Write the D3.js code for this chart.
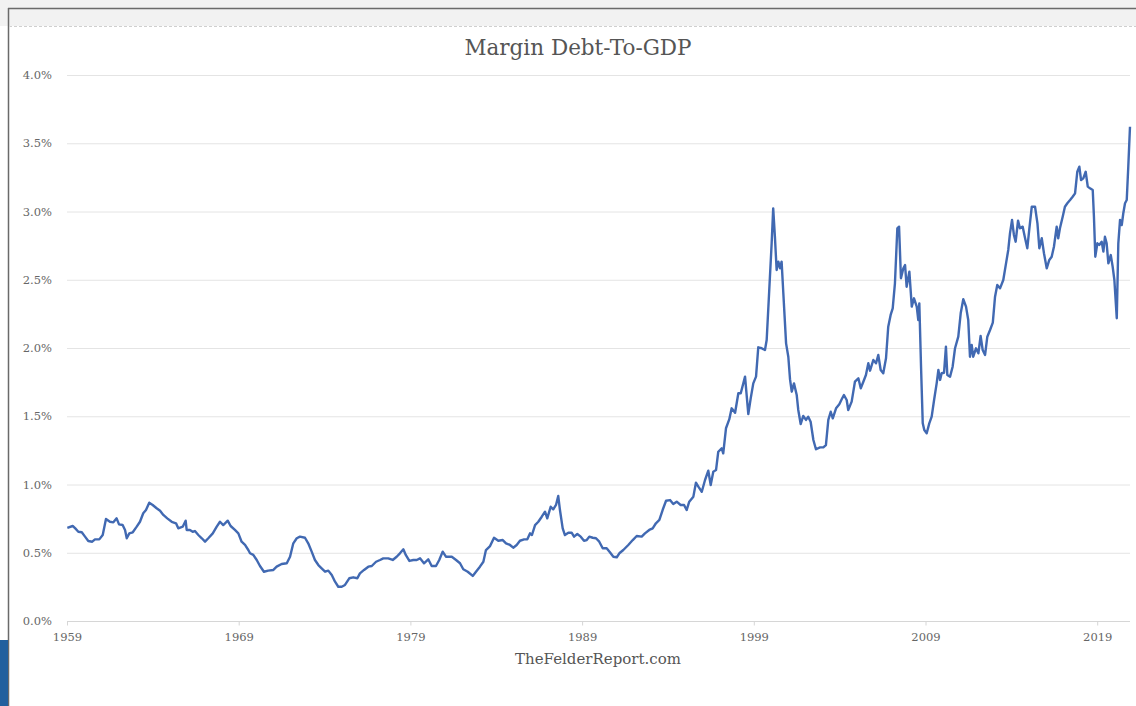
<!DOCTYPE html>
<html lang="en">
<head>
    <meta charset="UTF-8" />
    <title>Margin Debt-To-GDP</title>
    <script src="https://d3js.org/d3.v7.min.js"></script>
    <style>
        body { margin: 0; background: #ffffff; }
        text { font-family: "DejaVu Serif", "Liberation Serif", serif; }
    </style>
</head>
<body>
    <script>
        // values (year, margin debt as % of GDP)
        const years = [
            1959.02, 1959.33, 1959.47, 1959.66, 1959.86, 1960.05, 1960.24, 1960.47, 1960.63, 1960.88,
            1961.08, 1961.27, 1961.50, 1961.70, 1961.89, 1962.03, 1962.24, 1962.38, 1962.48, 1962.63,
            1962.83, 1963.06, 1963.25, 1963.44, 1963.60, 1963.79, 1963.99, 1964.22, 1964.42, 1964.61,
            1964.84, 1965.10, 1965.35, 1965.48, 1965.74, 1965.91, 1965.97, 1966.16, 1966.32, 1966.45,
            1966.65, 1966.85, 1967.04, 1967.23, 1967.49, 1967.72, 1967.91, 1968.10, 1968.36, 1968.53,
            1968.78, 1968.98, 1969.17, 1969.37, 1969.56,
            1969.66, 1969.85, 1970.05, 1970.24, 1970.47, 1970.72, 1971.02, 1971.21, 1971.50, 1971.80,
            1971.99, 1972.18, 1972.38, 1972.57, 1972.86, 1973.05, 1973.25, 1973.44, 1973.64, 1973.83,
            1974.03, 1974.22, 1974.42, 1974.61, 1974.80, 1975.00, 1975.19, 1975.44, 1975.67, 1975.91,
            1976.06, 1976.30, 1976.55, 1976.75, 1977.00, 1977.23, 1977.42, 1977.71, 1977.97, 1978.20,
            1978.39, 1978.59, 1978.73, 1978.94, 1979.17, 1979.37, 1979.56,
            1979.79, 1980.04, 1980.24, 1980.49, 1980.68, 1980.88, 1981.07, 1981.41, 1981.66, 1981.89,
            1982.08, 1982.34, 1982.63, 1982.82, 1983.05, 1983.25, 1983.40, 1983.64, 1983.87, 1984.12,
            1984.38, 1984.57, 1984.80, 1984.99, 1985.19, 1985.38, 1985.62, 1985.81, 1985.97, 1986.08,
            1986.26, 1986.45, 1986.65, 1986.84, 1986.97, 1987.17, 1987.32, 1987.48, 1987.61, 1987.71,
            1987.87, 1988.00, 1988.20, 1988.39, 1988.53, 1988.72, 1988.92, 1989.11, 1989.27, 1989.42,
            1989.62, 1989.81, 1990.00, 1990.20, 1990.43, 1990.62, 1990.82, 1991.02, 1991.17,
            1991.40, 1991.69, 1991.95, 1992.18, 1992.47, 1992.66, 1992.91, 1993.11, 1993.30, 1993.50,
            1993.69, 1993.89, 1994.12, 1994.31, 1994.51, 1994.74, 1994.94, 1995.09, 1995.24, 1995.48,
            1995.63, 1995.77, 1995.97, 1996.16, 1996.35, 1996.49, 1996.64, 1996.80, 1996.93, 1997.13,
            1997.22, 1997.38, 1997.57, 1997.71, 1997.91, 1998.10, 1998.24, 1998.49, 1998.68, 1998.82,
            1998.97, 1999.13, 1999.26, 1999.46, 1999.65, 1999.75, 1999.90, 2000.04, 2000.13, 2000.23,
            2000.33, 2000.43, 2000.53, 2000.62, 2000.72, 2000.88, 2001.01, 2001.11,
            2001.21, 2001.34, 2001.50, 2001.59, 2001.73, 2001.88, 2002.04, 2002.17, 2002.31, 2002.47,
            2002.62, 2002.86, 2003.05, 2003.20, 2003.34, 2003.48, 2003.60, 2003.79, 2003.98, 2004.12,
            2004.25, 2004.41, 2004.50, 2004.70, 2004.89, 2005.09, 2005.23, 2005.38, 2005.53, 2005.67,
            2005.77, 2005.96, 2006.12, 2006.25, 2006.39, 2006.54, 2006.70, 2006.83, 2006.97, 2007.09,
            2007.22, 2007.36, 2007.46, 2007.57, 2007.71, 2007.81, 2007.90, 2008.06, 2008.20, 2008.33,
            2008.49, 2008.58, 2008.64, 2008.74, 2008.84, 2008.93, 2009.07, 2009.22, 2009.36, 2009.50,
            2009.65, 2009.75, 2009.85, 2009.94, 2010.08, 2010.19, 2010.27, 2010.43,
            2010.58, 2010.72, 2010.91, 2011.05, 2011.20, 2011.36, 2011.49, 2011.59, 2011.69, 2011.78,
            2011.94, 2012.08, 2012.21, 2012.33, 2012.47, 2012.60, 2012.76, 2012.92, 2013.05, 2013.18,
            2013.34, 2013.53, 2013.69, 2013.82, 2013.92, 2014.04, 2014.15, 2014.25, 2014.39, 2014.50,
            2014.66, 2014.80, 2014.93, 2015.05, 2015.19, 2015.38, 2015.52, 2015.63, 2015.77, 2015.90,
            2016.06, 2016.21, 2016.35, 2016.48, 2016.64, 2016.73, 2016.83, 2016.99, 2017.12, 2017.26,
            2017.42, 2017.57, 2017.71, 2017.84, 2017.96, 2018.06, 2018.19, 2018.33, 2018.45, 2018.58,
            2018.74, 2018.81, 2018.89, 2019.01, 2019.12, 2019.26, 2019.36, 2019.45, 2019.55, 2019.65,
            2019.79, 2019.90, 2020.00, 2020.14, 2020.23, 2020.33, 2020.43, 2020.52, 2020.62, 2020.72,
            2020.81, 2020.91
        ];
        const debtToGdp = [
            0.683, 0.696, 0.680, 0.654, 0.650, 0.618, 0.586, 0.581, 0.598, 0.598,
            0.630, 0.747, 0.727, 0.723, 0.752, 0.708, 0.703, 0.667, 0.606, 0.642,
            0.650, 0.691, 0.727, 0.789, 0.813, 0.867, 0.850, 0.826, 0.808, 0.777,
            0.752, 0.727, 0.716, 0.679, 0.691, 0.735, 0.667, 0.667, 0.654, 0.659,
            0.630, 0.606, 0.581, 0.606, 0.642, 0.691, 0.727, 0.703, 0.735, 0.696,
            0.667, 0.642, 0.581, 0.557, 0.520,
            0.496, 0.484, 0.447, 0.403, 0.361, 0.369, 0.374, 0.398, 0.418, 0.423,
            0.471, 0.569, 0.606, 0.618, 0.610, 0.569, 0.508, 0.447, 0.410, 0.386,
            0.361, 0.369, 0.337, 0.288, 0.251, 0.251, 0.264, 0.313, 0.320, 0.313,
            0.349, 0.374, 0.398, 0.403, 0.434, 0.447, 0.459, 0.459, 0.447, 0.471,
            0.496, 0.525, 0.484, 0.440, 0.447, 0.447, 0.459,
            0.423, 0.452, 0.403, 0.403, 0.447, 0.508, 0.471, 0.471, 0.447, 0.423,
            0.379, 0.361, 0.330, 0.361, 0.398, 0.434, 0.520, 0.549, 0.610, 0.588,
            0.593, 0.569, 0.557, 0.537, 0.557, 0.588, 0.598, 0.598, 0.642, 0.630,
            0.703, 0.727, 0.764, 0.801, 0.752, 0.837, 0.818, 0.850, 0.916, 0.813,
            0.679, 0.630, 0.647, 0.647, 0.618, 0.637, 0.618, 0.588, 0.593, 0.618,
            0.610, 0.606, 0.581, 0.533, 0.533, 0.504, 0.471, 0.467, 0.496,
            0.520, 0.557, 0.593, 0.623, 0.618, 0.642, 0.667, 0.679, 0.716, 0.740,
            0.813, 0.881, 0.886, 0.857, 0.874, 0.850, 0.850, 0.813, 0.874, 0.911,
            1.013, 0.984, 0.947, 1.033, 1.101, 0.996, 1.094, 1.106, 1.240, 1.265,
            1.228, 1.412, 1.477, 1.558, 1.526, 1.668, 1.668, 1.790, 1.516, 1.631,
            1.741, 1.790, 2.005, 1.998, 1.985, 2.059, 2.425, 2.767, 3.023, 2.815,
            2.571, 2.633, 2.584, 2.633, 2.401, 2.034, 1.936, 1.770,
            1.680, 1.741, 1.655, 1.546, 1.443, 1.502, 1.473, 1.497, 1.460, 1.326,
            1.258, 1.272, 1.272, 1.289, 1.473, 1.533, 1.485, 1.558, 1.588, 1.624,
            1.656, 1.619, 1.546, 1.607, 1.753, 1.778, 1.705, 1.753, 1.802, 1.888,
            1.834, 1.912, 1.888, 1.949, 1.839, 1.815, 1.925, 2.156, 2.242, 2.291,
            2.474, 2.877, 2.889, 2.511, 2.584, 2.608, 2.449, 2.559, 2.303, 2.364,
            2.303, 2.205, 2.327, 1.863, 1.448, 1.399, 1.375, 1.448, 1.497, 1.619,
            1.741, 1.839, 1.766, 1.815, 1.819, 2.010, 1.802, 1.790,
            1.863, 1.998, 2.083, 2.254, 2.357, 2.303, 2.205, 1.936, 2.022, 1.936,
            1.998, 1.961, 2.088, 1.985, 1.949, 2.083, 2.132, 2.186, 2.376, 2.462,
            2.437, 2.498, 2.620, 2.718, 2.840, 2.938, 2.828, 2.779, 2.933, 2.877,
            2.889, 2.804, 2.731, 2.877, 3.035, 3.035, 2.913, 2.731, 2.804, 2.694,
            2.584, 2.645, 2.669, 2.742, 2.889, 2.804, 2.877, 2.962, 3.035, 3.060,
            3.084, 3.108, 3.133, 3.291, 3.328, 3.230, 3.243, 3.291, 3.182, 3.170,
            3.157, 2.962, 2.669, 2.767, 2.755, 2.779, 2.706, 2.815, 2.767, 2.620,
            2.681, 2.596, 2.498, 2.218, 2.767, 2.938, 2.901, 2.987, 3.060, 3.084,
            3.328, 3.621
        ];
        const yTicks = [0, 0.5, 1, 1.5, 2, 2.5, 3, 3.5, 4];
        const xTicks = [1959, 1969, 1979, 1989, 1999, 2009, 2019];

        const width = 1136;
        const height = 706;

        const svg = d3.select('body').append('svg')
            .attr('width', width)
            .attr('height', height);

        // frame of the screenshot
        svg.append('rect').attr('x', 0).attr('y', 0).attr('width', width).attr('height', height).attr('fill', '#ffffff');
        svg.append('rect').attr('x', 0).attr('y', 0).attr('width', width).attr('height', 26).attr('fill', '#f2f2f2');
        svg.append('line').attr('x1', 8).attr('x2', width).attr('y1', 8.5).attr('y2', 8.5)
            .attr('stroke', '#6a6a6a').attr('stroke-width', 1.5);
        svg.append('line').attr('x1', 8.5).attr('x2', 8.5).attr('y1', 8).attr('y2', height)
            .attr('stroke', '#6a6a6a').attr('stroke-width', 1.5);
        svg.append('line').attr('x1', 9).attr('x2', width).attr('y1', 26.5).attr('y2', 26.5)
            .attr('stroke', '#cfcfcf').attr('stroke-dasharray', '3,2');
        svg.append('rect').attr('x', 0).attr('y', 640).attr('width', 8).attr('height', 66).attr('fill', '#22609e');

        const x = d3.scaleLinear().domain([1959, 2021]).range([67, 67 + 62 * 17.17]);
        const y = d3.scaleLinear().domain([0, 4]).range([621, 75]);

        // grid lines
        svg.append('g')
            .selectAll('line')
            .data(yTicks)
            .enter()
            .append('line')
            .attr('x1', 67)
            .attr('x2', 1130)
            .attr('y1', (d) => y(d) + 0.5)
            .attr('y2', (d) => y(d) + 0.5)
            .attr('stroke', (d) => (d === 0 ? '#d6d6d6' : '#e4e4e4'))
            .attr('stroke-width', 1);

        // y axis labels
        svg.append('g')
            .selectAll('text')
            .data(yTicks)
            .enter()
            .append('text')
            .attr('x', 52)
            .attr('y', (d) => y(d) + 4)
            .attr('text-anchor', 'end')
            .attr('font-size', 11.5)
            .attr('fill', '#666666')
            .text((d) => d3.format('.1f')(d) + '%');

        // x axis
        const xAxis = svg.append('g')
            .attr('transform', 'translate(0,' + (y(0) + 0.5) + ')')
            .call(d3.axisBottom(x).tickValues(xTicks).tickFormat(d3.format('d')).tickSize(4).tickPadding(7));
        xAxis.select('.domain').remove();
        xAxis.selectAll('line').attr('stroke', '#d6d6d6');
        xAxis.selectAll('text')
            .attr('font-family', '"DejaVu Serif", serif')
            .attr('font-size', 11.5)
            .attr('fill', '#666666');

        // series line
        const points = years.map((yr, i) => [yr, debtToGdp[i]]);
        const line = d3.line()
            .x((d) => x(d[0]))
            .y((d) => y(d[1]));

        svg.append('path')
            .datum(points)
            .attr('d', line)
            .attr('fill', 'none')
            .attr('stroke', '#4169b2')
            .attr('stroke-width', 2.4)
            .attr('stroke-linejoin', 'round');

        // title and source
        svg.append('text')
            .attr('x', 578)
            .attr('y', 55)
            .attr('text-anchor', 'middle')
            .attr('font-size', 21.5)
            .attr('fill', '#555555')
            .text('Margin Debt-To-GDP');

        svg.append('text')
            .attr('x', 598)
            .attr('y', 664)
            .attr('text-anchor', 'middle')
            .attr('font-size', 15)
            .attr('fill', '#555555')
            .text('TheFelderReport.com');
    </script>
</body>
</html>
